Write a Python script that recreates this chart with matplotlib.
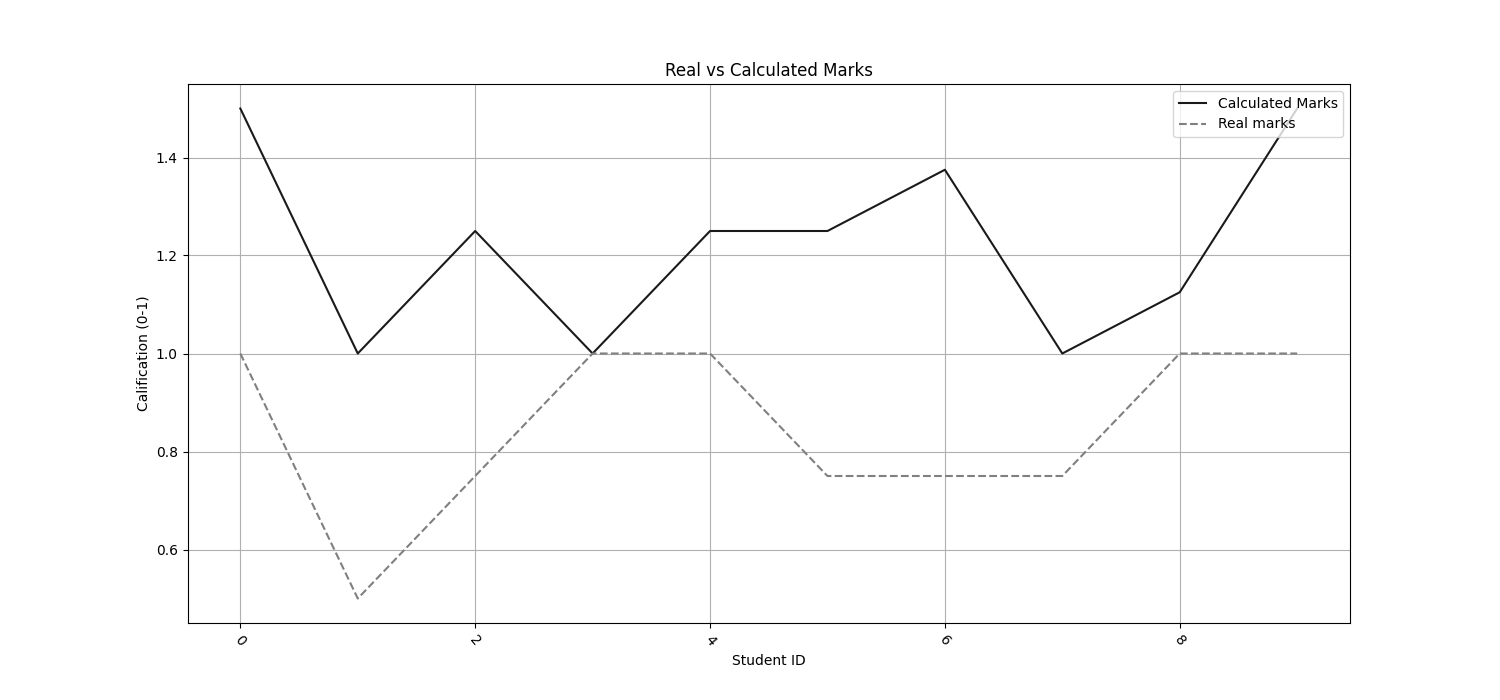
import matplotlib
matplotlib.use("Agg")
import matplotlib.pyplot as plt

student_ids = list(range(10))
calculated_marks = [1.5, 1.0, 1.25, 1.0, 1.25, 1.25, 1.375, 1.0, 1.125, 1.5]
real_marks = [1.0, 0.5, 0.75, 1.0, 1.0, 0.75, 0.75, 0.75, 1.0, 1.0]

fig, ax = plt.subplots(figsize=(15, 7), dpi=100)
ax.plot(student_ids, calculated_marks, color="#1a1a1a", linestyle="-", label="Calculated Marks")
ax.plot(student_ids, real_marks, color="gray", linestyle="--", label="Real marks")
ax.set_title("Real vs Calculated Marks")
ax.set_xlabel("Student ID")
ax.set_ylabel("Calification (0-1)")
ax.grid(True)
plt.setp(ax.get_xticklabels(), rotation=-50)
ax.legend(loc="upper right")
fig.savefig("out.png")
